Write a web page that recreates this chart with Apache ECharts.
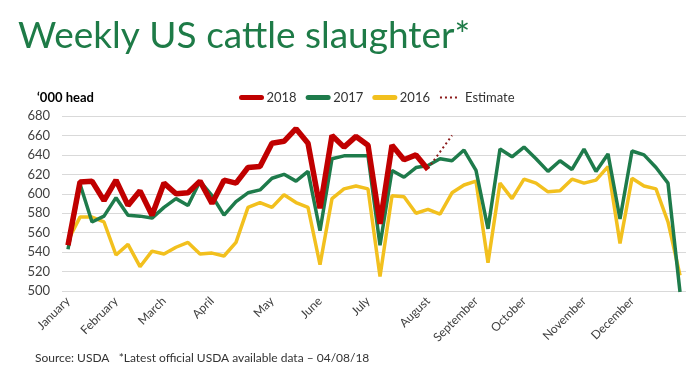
<!DOCTYPE html>
<html>
<head>
<meta charset="utf-8">
<title>Weekly US cattle slaughter</title>
<script src="https://cdn.jsdelivr.net/npm/echarts@6/dist/echarts.min.js"></script>
<style>
  html, body { margin: 0; padding: 0; background: #ffffff; }
  #chart { width: 700px; height: 376px; }
</style>
</head>
<body>
<div id="chart"></div>
<script>
  // week numbers on the x axis
  const weeks = Array.from({length: 52}, (v, i) => 'W' + (i + 1));
  // which week each month label sits on
  const months = ['January', 'February', 'March', 'April', 'May', 'June', 'July',
    'August', 'September', 'October', 'November', 'December'];
  const monthWeek = [0, 4, 8, 12, 17, 21, 25, 30, 34, 38, 43, 47];

  // '000 head
  const y2018 = [547, 612, 613, 593, 614, 588, 603, 578, 611, 600,
    601, 613, 590, 614, 611, 627, 628, 652, 654, 667,
    652, 585, 660, 648, 659, 650, 569, 650, 635, 640,
    625];
  const estimate = [626, 643, 660]; // starts at week 31
  const y2017 = [543, 610, 571, 577, 596, 578, 577, 575, 586, 595,
    588, 613, 598, 578, 592, 601, 604, 616, 620, 613,
    623, 562, 636, 639, 639, 639, 547, 624, 617, 627,
    629, 636, 634, 645, 624, 564, 646, 638, 648, 636,
    623, 634, 625, 646, 623, 641, 574, 644, 640, 627,
    611, 499];
  const y2016 = [552, 576, 576, 571, 537, 548, 525, 541, 538, 545,
    550, 538, 539, 536, 550, 586, 591, 586, 599, 591,
    586, 527, 595, 605, 608, 605, 515, 598, 597, 580,
    584, 579, 601, 609, 613, 529, 611, 595, 615, 611,
    602, 603, 615, 611, 614, 628, 549, 616, 608, 605,
    571, 516];

  const font = 'Lato, "Open Sans", sans-serif';
  const estData = weeks.map((w, i) => (i >= 30 && i < 30 + estimate.length) ? estimate[i - 30] : null);

  let chart = echarts.init(document.getElementById('chart'), null, {renderer: 'canvas'});
  chart.setOption({
    animation: false,
    textStyle: {fontFamily: font},
    title: [
      {
        text: 'Weekly US cattle slaughter*',
        left: 13, top: 13,
        textStyle: {color: '#1e7b47', fontSize: 37, fontWeight: 'normal', fontFamily: font}
      },
      {
        text: '\u2018000 head',
        left: 32, top: 86,
        textStyle: {color: '#000000', fontSize: 13, fontWeight: 'bold', fontFamily: font}
      },
      {
        text: 'Source: USDA   *Latest official USDA available data \u2013 04/08/18',
        left: 30, top: 347,
        textStyle: {color: '#333333', fontSize: 12, fontWeight: 'normal', fontFamily: font}
      }
    ],
    legend: {
      left: 234, top: 86,
      itemWidth: 20, itemHeight: 8, itemGap: 9,
      // hide the circle that line series put in the legend
      itemStyle: {opacity: 0},
      textStyle: {color: '#333333', fontSize: 13, fontFamily: font},
      data: [
        {name: '2018', lineStyle: {width: 5, cap: 'round'}},
        {name: '2017', lineStyle: {width: 5, cap: 'round'}},
        {name: '2016', lineStyle: {width: 5, cap: 'round'}},
        {name: 'Estimate'}
      ]
    },
    grid: {left: 62, top: 116, width: 624, height: 175, containLabel: false},
    xAxis: {
      type: 'category',
      data: weeks,
      boundaryGap: true,
      axisLine: {show: false},
      axisTick: {show: false},
      axisLabel: {
        rotate: 45,
        margin: 8,
        color: '#404040',
        fontSize: 12,
        fontFamily: font,
        interval: (idx) => monthWeek.includes(idx),
        formatter: (v, idx) => months[monthWeek.indexOf(idx)] || ''
      }
    },
    yAxis: {
      type: 'value',
      min: 500, max: 680, interval: 20,
      axisLine: {show: false},
      axisTick: {show: false},
      axisLabel: {color: '#404040', fontSize: 13, margin: 12, fontFamily: font},
      splitLine: {lineStyle: {color: '#d9d9d9', width: 1}}
    },
    series: [
      {
        name: '2016', type: 'line', data: y2016, symbol: 'none', z: 2,
        lineStyle: {color: '#f2c01e', width: 3.5}, itemStyle: {color: '#f2c01e'}
      },
      {
        name: '2017', type: 'line', data: y2017, symbol: 'none', z: 3,
        lineStyle: {color: '#1e7b4b', width: 3.5}, itemStyle: {color: '#1e7b4b'}
      },
      {
        name: '2018', type: 'line', data: y2018, symbol: 'none', z: 4,
        lineStyle: {color: '#c00000', width: 5.5}, itemStyle: {color: '#c00000'}
      },
      {
        name: 'Estimate', type: 'line', data: estData, symbol: 'none', z: 5,
        lineStyle: {color: '#8b1a1a', width: 2, type: [2, 3]}, itemStyle: {color: '#8b1a1a'}
      }
    ]
  });
</script>
</body>
</html>
